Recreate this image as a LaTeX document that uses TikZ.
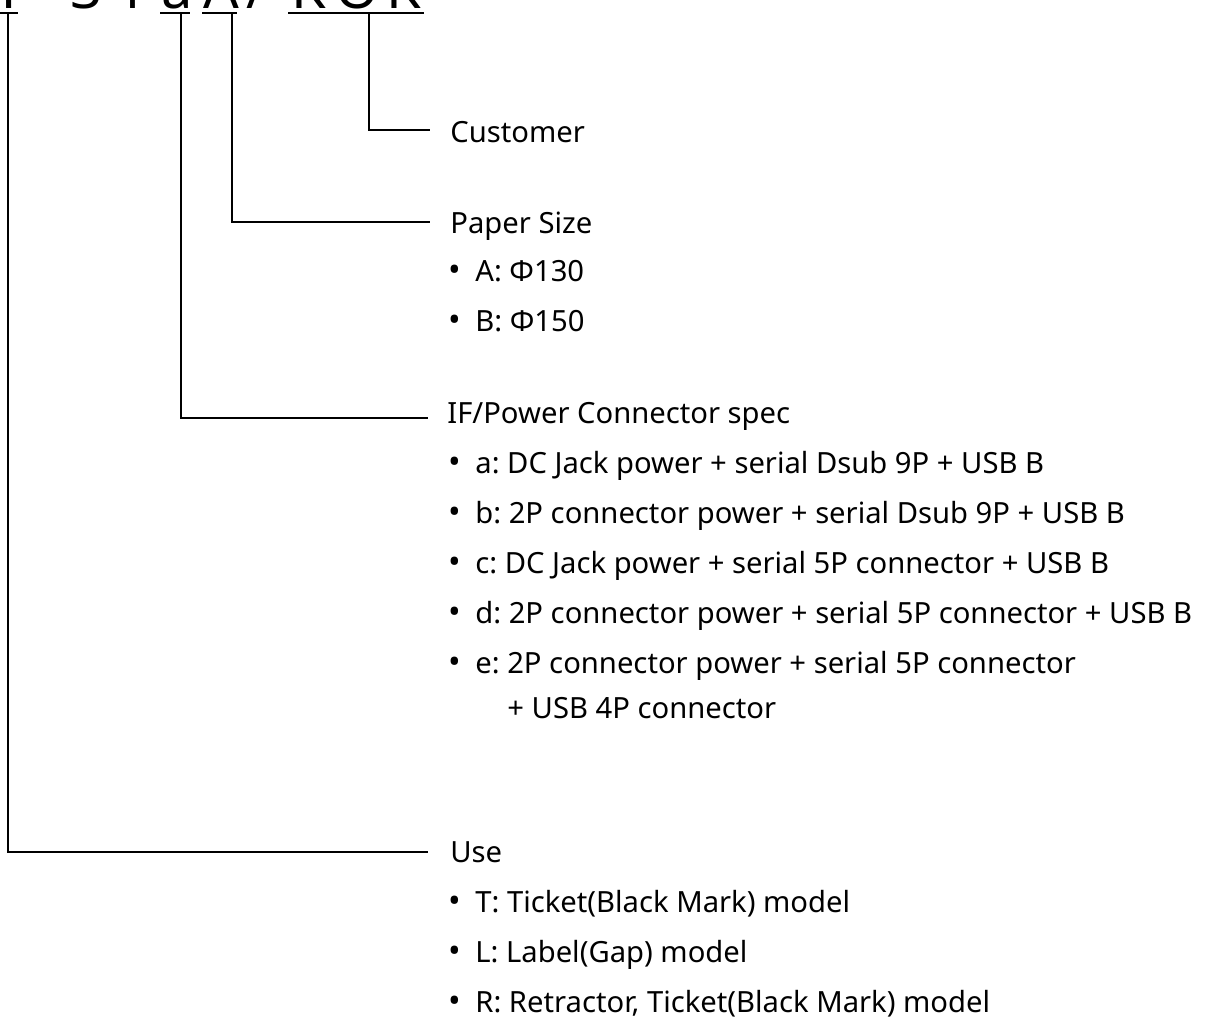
\documentclass[tikz,border=0pt]{standalone}
\usepackage{fontspec}
\setmainfont{Noto Sans}
\frenchspacing
\begin{document}
\begin{tikzpicture}[x=0.5pt,y=-0.5pt,
  lbl/.style={anchor=base west,inner sep=0pt,font=\fontsize{14.6}{17}\selectfont},
  code/.style={anchor=base,inner sep=0pt,font=\fontsize{28}{30}\selectfont},
  conn/.style={line width=0.7pt,black},
  uline/.style={line width=1.4pt,black}]
\useasboundingbox (0,0) rectangle (1212,1020);
% top code (clipped by the page)
\node[code] (c1) at (9,8.5) {T};
\node[code] (c3) at (87,8.5) {3};
\node[code] (c4) at (132,8.5) {1};
\node[code] (c5) at (177,8.5) {a};
\node[code] (c6) at (221,8.5) {A};
\node[code] (c7) at (257,8.5) {/};
\node[code] (c8) at (309,8.5) {K};
\node[code] (c9) at (357,8.5) {O};
\node[code] (c10) at (404,8.5) {K};
\draw[uline] (0,13) -- (18,13);
\draw[uline] (160,13) -- (190,13);
\draw[uline] (202,13) -- (237,13);
\draw[uline] (288,13) -- (424,13);
% junction points
\coordinate (uT) at (8,14);
\coordinate (ua) at (181,14);
\coordinate (uA) at (232,14);
\coordinate (uK) at (369,14);
\coordinate (eCust) at (430,130);
\coordinate (ePaper) at (430,222);
\coordinate (eIF) at (428,418);
\coordinate (eUse) at (428,852);
\draw[conn] (uK) |- (eCust);
\draw[conn] (uA) |- (ePaper);
\draw[conn] (ua) |- (eIF);
\draw[conn] (uT) |- (eUse);
% labels
\newcommand{\itm}[3]{\node[lbl,scale=1.15] (#1b) at (448.5,#2) {•}; \node[lbl] (#1) at (475,#2) {#3};}
\node[lbl] (cust) at (450,143) {Customer};
\node[lbl] (paper) at (450,234) {Paper Size};
\itm{pA}{282}{A: Φ130}
\itm{pB}{332}{B: Φ150}
\node[lbl] (ifp) at (447,424) {IF/Power Connector spec};
\itm{ia}{474}{a: DC Jack power + serial Dsub 9P + USB B}
\itm{ib}{524}{b: 2P connector power + serial Dsub 9P + USB B}
\itm{ic}{574}{c: DC Jack power + serial 5P connector + USB B}
\itm{id}{624}{d: 2P connector power + serial 5P connector + USB B}
\itm{ie}{674}{e: 2P connector power + serial 5P connector}
\node[lbl] (ie2) at (507,719) {+ USB 4P connector};
\node[lbl] (use) at (450,863) {Use};
\itm{uTt}{913}{T: Ticket(Black Mark) model}
\itm{uL}{963}{L: Label(Gap) model}
\itm{uR}{1013}{R: Retractor, Ticket(Black Mark) model}
\end{tikzpicture}
\end{document}
